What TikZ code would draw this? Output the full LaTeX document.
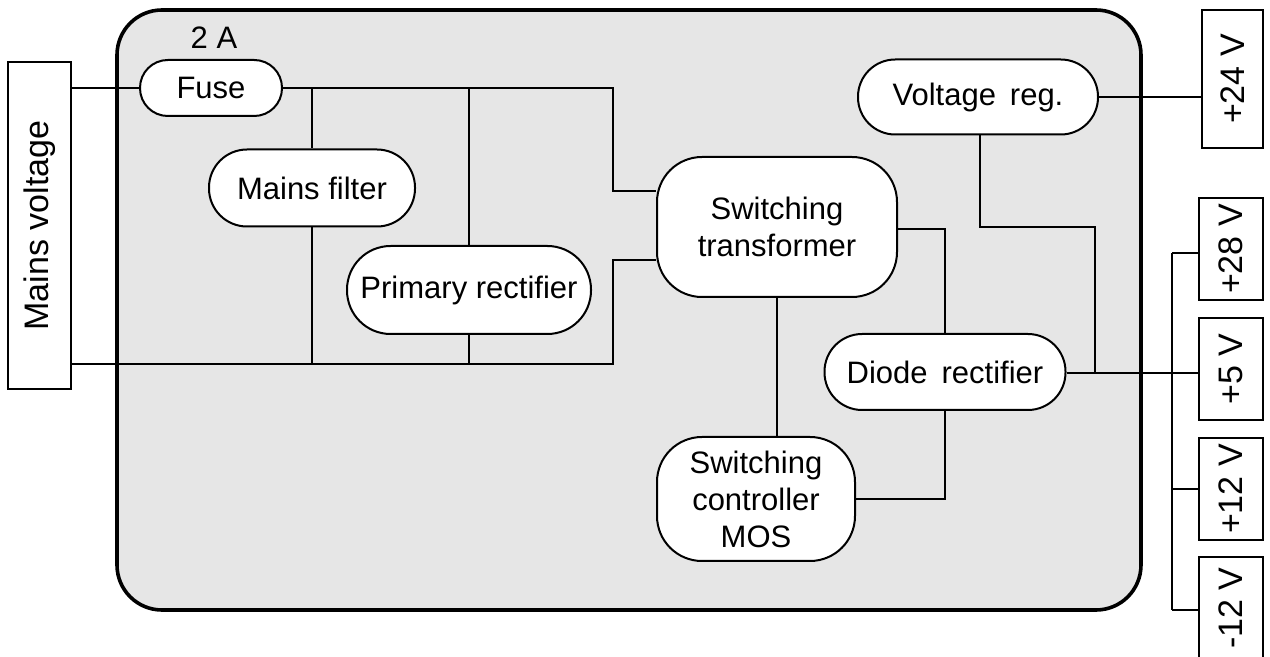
\documentclass[tikz,border=0pt]{standalone}
\usepackage{fontspec}
\setmainfont{Liberation Sans}
\definecolor{boxgray}{RGB}{230,230,230}
\begin{document}
\begin{tikzpicture}[x=0.5pt,y=-0.5pt,
  wire/.style={line width=1pt},
  blob/.style={draw, line width=1pt, fill=white, inner sep=0pt, align=center, font=\fontsize{15.5}{18.5}\selectfont},
  term/.style={draw, line width=0.8pt, fill=white, rotate=90, inner sep=0pt, font=\fontsize{17}{20}\selectfont}]
\useasboundingbox (0,0) rectangle (1270,657);
\clip (0,0) rectangle (1270,657);
\draw[line width=1.8pt, fill=boxgray, rounded corners=22.5pt] (117,10) rectangle (1141,610);

% nodes
\node[term, minimum width=163.5pt, minimum height=31.5pt] (mains) at (39.5,225.5) {Mains voltage};
\node[font=\fontsize{15.5}{18}\selectfont] (amp) at (214,38) {2 A};
\node[blob, minimum width=71pt, minimum height=28pt, rounded corners=13.9pt] (fuse) at (211,88) {Fuse};
\node[blob, minimum width=103pt, minimum height=38.5pt, rounded corners=19pt] (filter) at (312,188) {Mains filter};
\node[blob, minimum width=122pt, minimum height=44pt, rounded corners=21.8pt] (prim) at (469,290) {Primary rectifier};
\node[blob, minimum width=120pt, minimum height=70pt, rounded corners=22.5pt] (trans) at (777,227) {Switching\\transformer};
\node[blob, minimum width=99pt, minimum height=62pt, rounded corners=22.5pt] (ctrl) at (756,499) {Switching\\controller\\MOS};
\node[blob, minimum width=120.5pt, minimum height=38pt, rounded corners=18.8pt] (diode) at (945,372) {Diode\hspace{0.45em}rectifier};
\node[blob, minimum width=120pt, minimum height=37.5pt, rounded corners=18.6pt] (vreg) at (978,97) {Voltage\hspace{0.45em}reg.};
\node[term, minimum width=69pt, minimum height=30.5pt] (v24) at (1232.5,79) {+24 V};
\node[term, minimum width=51pt, minimum height=32pt] (v28) at (1231,249) {+28 V};
\node[term, minimum width=51pt, minimum height=32pt] (v5) at (1231,369) {+5 V};
\node[term, minimum width=51pt, minimum height=32pt] (v12) at (1231,489) {+12 V};
\node[term, minimum width=51pt, minimum height=32pt] (vm12) at (1231,608) {-12 V};

% junction coordinates
\coordinate (j1) at (613,88);
\coordinate (j2) at (613,191);
\coordinate (j3) at (312,88);
\coordinate (j4) at (469,88);
\coordinate (b1) at (613,364);
\coordinate (b2) at (613,260);
\coordinate (t1) at (945,229);
\coordinate (r1) at (980,227);
\coordinate (r2) at (1095,227);
\coordinate (r3) at (1095,373);
\coordinate (k1) at (1172,253);
\coordinate (k2) at (1172,610);

% wires
\draw[wire] (fuse.west -| mains.south) -- (fuse.west);
\draw[wire] (fuse.east) -- (j1) -- (j2) -- (j2 -| trans.west);
\draw[wire] (j3) -- (filter.north);
\draw[wire] (filter.south) -- (filter.south |- b1);
\draw[wire] (j4) -- (prim.north);
\draw[wire] (prim.south) -- (prim.south |- b1);
\draw[wire] (b1 -| mains.south) -- (b1) -- (b2) -- (b2 -| trans.west);
\draw[wire] (trans.east |- t1) -- (t1) -- (diode.north);
\draw[wire] (trans.south) -- (trans.south |- ctrl.north);
\draw[wire] (diode.south) -- (diode.south |- ctrl.east) -- (ctrl.east);
\draw[wire] (vreg.east) -- (vreg.east -| v24.north);
\draw[wire] (vreg.south -| r1) -- (r1) -- (r2) -- (r3);
\draw[wire] (diode.east |- r3) -- (r3 -| v5.north);
\draw[wire] (k1) -- (k2);
\draw[wire] (k1) -- (k1 -| v28.north);
\draw[wire] (k2) -- (k2 -| vm12.north);
\draw[wire] (k1 |- v12.center) -- (v12.north);
\end{tikzpicture}
\end{document}
